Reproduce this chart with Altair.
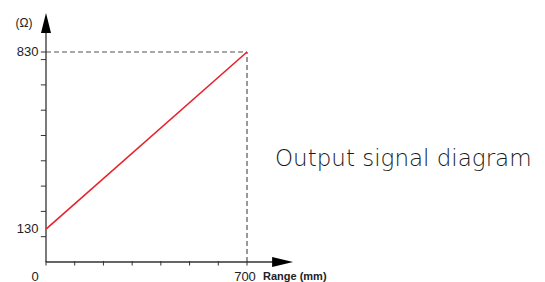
import altair as alt
import pandas as pd

# ---- data ----
range_mm = [0, 700]
resistance = [130, 830]
x_minor_ticks = [0, 100, 200, 300, 400, 500, 600, 700]
y_minor_ticks = [100, 200, 300, 400, 500, 600, 700, 800, 830]
x_labels = ["0", "700"]
x_label_vals = [0, 700]
y_labels = ["130", "830"]
y_label_vals = [130, 830]

W, H = 529, 274
xs = alt.Scale(domain=[0, 700], range=[38, 239], nice=False, zero=False)
ys = alt.Scale(domain=[0, 830], range=[254, 44], nice=False, zero=False)

def X(f="x"):
    return alt.X(f"{f}:Q", scale=xs, axis=None)

def Y(f="y"):
    return alt.Y(f"{f}:Q", scale=ys, axis=None)

line_df = pd.DataFrame({"x": range_mm, "y": resistance})
red = alt.Chart(line_df).mark_line(color="#e8222a", strokeWidth=1.6, clip=False).encode(x=X(), y=Y())

dash_h = alt.Chart(pd.DataFrame({"x": [0], "x2": [range_mm[1]], "y": [resistance[1]]})).mark_rule(
    color="#555555", strokeDash=[5, 3], strokeWidth=1.2).encode(x=X(), x2="x2", y=Y())
dash_v = alt.Chart(pd.DataFrame({"x": [range_mm[1]], "y": [0], "y2": [resistance[1]]})).mark_rule(
    color="#555555", strokeDash=[5, 3], strokeWidth=1.2).encode(x=X(), y=Y(), y2="y2")

axis_col = "#333333"
y_axis = alt.Chart(pd.DataFrame({"x": [0], "y": [0], "y2": [910]})).mark_rule(
    color=axis_col, strokeWidth=1.3, clip=False).encode(x=X(), y=Y(), y2="y2")
x_axis = alt.Chart(pd.DataFrame({"x": [0], "x2": [790], "y": [0]})).mark_rule(
    color=axis_col, strokeWidth=1.3, clip=False).encode(x=X(), x2="x2", y=Y())

y_arrow = alt.Chart(pd.DataFrame({"x": [0], "y": [945]})).mark_point(
    shape="M-0.5,1L0,-1L0.5,1Z", size=400, filled=True, color="#000000", opacity=1, clip=False
).encode(x=X(), y=Y())
x_arrow = alt.Chart(pd.DataFrame({"x": [824], "y": [0]})).mark_point(
    shape="M-1,-0.48L1,0L-1,0.48Z", size=441, filled=True, color="#000000", opacity=1, clip=False
).encode(x=X(), y=Y())

n_xt = len(x_minor_ticks)
xt = alt.Chart(pd.DataFrame({"x": x_minor_ticks, "y": [-14] * n_xt, "y2": [4] * n_xt})).mark_rule(
    color=axis_col, strokeWidth=1).encode(x=X(), y=Y(), y2="y2")
n_yt = len(y_minor_ticks)
yt = alt.Chart(pd.DataFrame({"y": y_minor_ticks, "x": [-18] * n_yt, "x2": [0] * n_yt})).mark_rule(
    color=axis_col, strokeWidth=1).encode(x=X(), x2="x2", y=Y())

font = "Liberation Sans"
ylab = alt.Chart(pd.DataFrame({"y": y_label_vals, "t": y_labels, "x": [0, 0]})).mark_text(
    align="right", baseline="middle", dx=-7.5, fontSize=13, font=font, color="#222222"
).encode(x=X(), y=Y(), text="t:N")
xlab0 = alt.Chart(pd.DataFrame({"x": [x_label_vals[0]], "t": [x_labels[0]], "y": [0]})).mark_text(
    align="center", baseline="middle", dx=-11, dy=14.5, fontSize=13, font=font, color="#222222"
).encode(x=X(), y=Y(), text="t:N")
xlab1 = alt.Chart(pd.DataFrame({"x": [x_label_vals[1]], "t": [x_labels[1]], "y": [0]})).mark_text(
    align="center", baseline="middle", dx=-2, dy=14.5, fontSize=13, font=font, color="#222222"
).encode(x=X(), y=Y(), text="t:N")

xtitle = alt.Chart(pd.DataFrame({"x": [0], "y": [0], "t": ["Range (mm)"]})).mark_text(
    align="left", baseline="middle", dx=217, dy=14.5, fontSize=11, fontWeight="bold", font=font, color="#222222"
).encode(x=X(), y=Y(), text="t:N")
ytitle = alt.Chart(pd.DataFrame({"x": [0], "y": [0], "t": ["(Ω)"]})).mark_text(
    align="center", baseline="middle", dx=-22, dy=-239.5, fontSize=12, font=font, color="#222222"
).encode(x=X(), y=Y(), text="t:N")

note = alt.Chart(pd.DataFrame({"x": [700], "y": [0], "t": ["Output signal diagram"]})).mark_text(
    align="left", baseline="alphabetic", dx=28, dy=-96, fontSize=23, font="DejaVu Sans",
    fontWeight=300, color="#1a1a1a"
).encode(x=X(), y=Y(), text="t:N")

chart = alt.layer(
    dash_h, dash_v, xt, yt, y_axis, x_axis, y_arrow, x_arrow, red,
    ylab, xlab0, xlab1, xtitle, ytitle, note
).properties(
    width=W, height=H, padding=0, background="white",
    autosize=alt.AutoSizeParams(type="none")
).configure_view(stroke=None)

chart.save("out.html", embed_options={"renderer": "svg", "actions": False})
